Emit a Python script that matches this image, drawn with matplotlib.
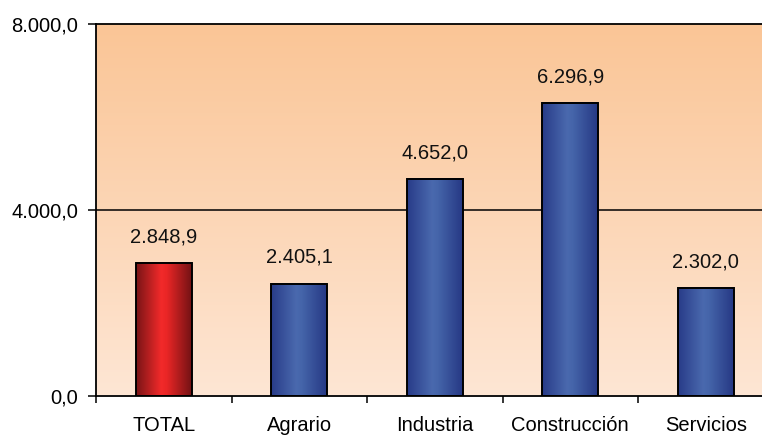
import numpy as np
import matplotlib
matplotlib.use('Agg')
import matplotlib.pyplot as plt
from matplotlib.colors import LinearSegmentedColormap

categories = ['TOTAL', 'Agrario', 'Industria', 'Construcción', 'Servicios']
values = [2848.9, 2405.1, 4652.0, 6296.9, 2302.0]
value_labels = ['2.848,9', '2.405,1', '4.652,0', '6.296,9', '2.302,0']
ytick_vals = [0, 4000, 8000]
ytick_labels = ['0,0', '4.000,0', '8.000,0']

plt.rcParams['font.family'] = ['Liberation Sans', 'DejaVu Sans']
FS = 14.5

fig = plt.figure(figsize=(7.62, 4.37), dpi=100)
ax = fig.add_axes([96 / 762, 41.5 / 437, 677.5 / 762, 372 / 437])

ax.set_xlim(-0.5, len(categories) - 0.5)
ax.set_ylim(0, 8000)

# background gradient
bg = LinearSegmentedColormap.from_list('bg', ['#fee6d4', '#fac596'])
grad = np.linspace(0, 1, 256).reshape(-1, 1)
ax.imshow(grad, cmap=bg, aspect='auto', origin='lower',
          extent=(-0.5, len(categories) - 0.5, 0, 8000), zorder=0)

red_cm = LinearSegmentedColormap.from_list(
    'red', [(0, '#781416'), (0.45, '#f22a2a'), (0.55, '#ea2626'), (1, '#721214')])
blue_cm = LinearSegmentedColormap.from_list(
    'blue', [(0, '#283b88'), (0.45, '#4a69ae'), (0.55, '#4565aa'), (1, '#263884')])

bars = ax.bar(range(len(categories)), values, width=0.41, facecolor='none',
              edgecolor='black', linewidth=1.4, zorder=3)
hgrad = np.linspace(0, 1, 256).reshape(1, -1)
for i, b in enumerate(bars):
    cm = red_cm if i == 0 else blue_cm
    ax.imshow(hgrad, cmap=cm, aspect='auto',
              extent=(b.get_x(), b.get_x() + b.get_width(), 0, b.get_height()),
              zorder=2)
    ax.annotate(value_labels[i], (b.get_x() + b.get_width() / 2, b.get_height()),
                xytext=(0, 12), textcoords='offset points', ha='center',
                va='bottom', fontsize=FS, color='#111111')

ax.set_xlim(-0.5, len(categories) - 0.5)
ax.set_ylim(0, 8000)

ax.axhline(4000, color='black', linewidth=1.1, zorder=1)

ax.spines['right'].set_visible(False)
for s in ['left', 'bottom', 'top']:
    ax.spines[s].set_linewidth(1.3)
    ax.spines[s].set_zorder(4)

ax.set_yticks(ytick_vals)
ax.set_yticklabels(ytick_labels, fontsize=FS)
ax.tick_params(axis='y', length=6, width=1.1, pad=7)

ax.set_xticks(range(len(categories)))
ax.set_xticklabels(categories, fontsize=FS)
ax.set_xticks(np.arange(-0.5, len(categories), 1.0), minor=True)
ax.tick_params(axis='x', which='major', length=0, pad=15)
ax.tick_params(axis='x', which='minor', length=5, width=1.1)

fig.savefig('out.png', dpi=100)
